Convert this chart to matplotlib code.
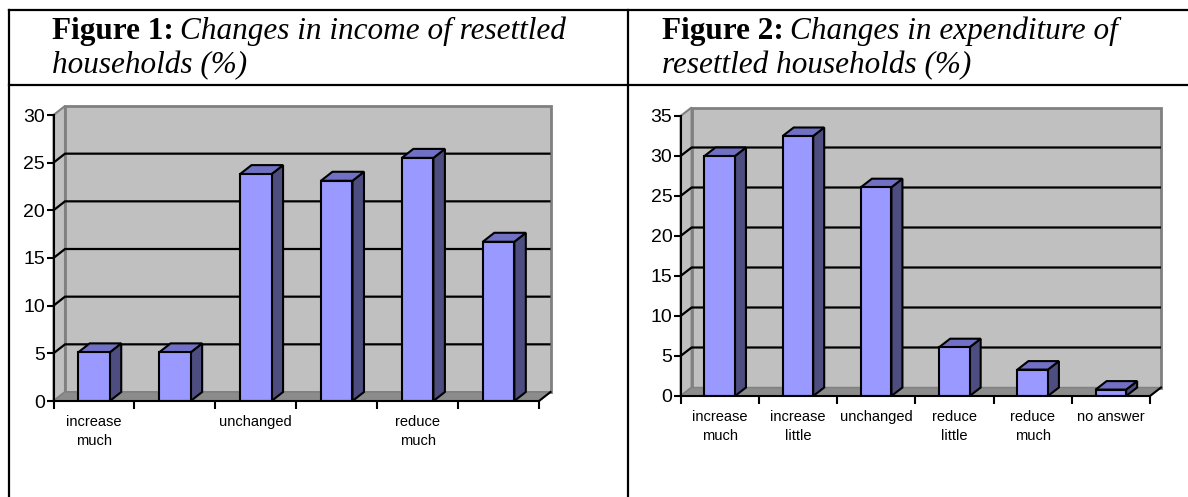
import matplotlib
matplotlib.use("Agg")
import matplotlib.pyplot as plt
from matplotlib.patches import Polygon, Rectangle
from matplotlib.lines import Line2D
import numpy as np

# Figure 1: changes in income of resettled households (%)
INCOME_LABELS = ["increase\nmuch", "", "unchanged", "", "reduce\nmuch", ""]
INCOME_VALUES = [5.1, 5.1, 23.8, 23.1, 25.5, 16.7]
INCOME_YMAX, INCOME_STEP = 30, 5

# Figure 2: changes in expenditure of resettled households (%)
EXPEND_LABELS = ["increase\nmuch", "increase\nlittle", "unchanged",
                 "reduce\nlittle", "reduce\nmuch", "no answer"]
EXPEND_VALUES = [30.0, 32.5, 26.1, 6.1, 3.3, 0.8]
EXPEND_YMAX, EXPEND_STEP = 35, 5

TITLES = [("Figure 1:", "Changes in income of resettled", "households (%)"),
          ("Figure 2:", "Changes in expenditure of", "resettled households (%)")]

FRONT = "#9999FF"
SIDE = "#4D4D80"
TOP = "#7070C4"
WALL = "#C0C0C0"
WALL_EDGE = "#808080"
FLOOR = "#8C8C8C"

W, H = 1188, 497
SANS = "Liberation Sans"
SERIF = "Liberation Serif"


def px_axes(fig, x0, y0, x1, y1):
    # pixel box (top-left origin) -> figure axes
    return fig.add_axes([x0 / W, (H - y1) / H, (x1 - x0) / W, (y1 - y0) / H])


def bar3d(ax, labels, values, ymax, step, depth_px=(11.5, 9.0), width=0.39):
    n = len(values)
    x = np.arange(n)
    x0, x1 = -0.5, n - 0.5
    ax.set_xlim(x0, x1)
    ax.set_ylim(0, ymax)
    sx, sy = ax.transData.transform((1, 1)) - ax.transData.transform((0, 0))
    dx, dy = depth_px[0] / sx, depth_px[1] / sy

    # walls and floor
    ax.add_patch(Polygon([(x0, 0), (x0, ymax), (x0 + dx, ymax + dy), (x0 + dx, dy)],
                         fc=WALL, ec=WALL_EDGE, lw=1.5, zorder=1, clip_on=False))
    ax.add_patch(Rectangle((x0 + dx, dy), x1 - x0, ymax, fc=WALL, ec=WALL_EDGE,
                           lw=2, zorder=1, clip_on=False))
    ax.add_patch(Polygon([(x0, 0), (x1, 0), (x1 + dx, dy), (x0 + dx, dy)],
                         fc=FLOOR, ec=WALL_EDGE, lw=1, zorder=2, clip_on=False))
    for t in np.arange(step, ymax, step):
        ax.plot([x0, x0 + dx, x1 + dx], [t, t + dy, t + dy], color="black",
                lw=1.6, zorder=2, clip_on=False, solid_capstyle="butt")

    # bars: front face through ax.bar, side and top faces as polygons
    ax.bar(x, values, width=width, color=FRONT, edgecolor="black", linewidth=1.5, zorder=4)
    for xi, v in zip(x, values):
        l, r = xi - width / 2, xi + width / 2
        ax.add_patch(Polygon([(r, 0), (r, v), (r + dx, v + dy), (r + dx, dy)],
                             fc=SIDE, ec="black", lw=1.5, zorder=3, clip_on=False))
        ax.add_patch(Polygon([(l, v), (r, v), (r + dx, v + dy), (l + dx, v + dy)],
                             fc=TOP, ec="black", lw=1.5, zorder=3, clip_on=False))

    ax.plot([x1, x1 + dx], [0, dy], color="black", lw=1.5, zorder=5, clip_on=False)

    ax.patch.set_visible(False)
    for s in ("top", "right"):
        ax.spines[s].set_visible(False)
    for s in ("left", "bottom"):
        ax.spines[s].set_linewidth(1.5)
        ax.spines[s].set_zorder(5)
    ax.set_xticks(np.arange(n + 1) - 0.5)
    ax.set_xticklabels([])
    ax.set_xticks(x, minor=True)
    ax.set_xticklabels(labels, minor=True, fontfamily=SANS, fontsize=10.5, linespacing=1.5)
    ax.tick_params(axis="x", which="major", direction="out", length=6, width=1.5)
    ax.tick_params(axis="x", which="minor", length=0, pad=10)
    ax.set_yticks(np.arange(0, ymax + 1, step))
    ax.tick_params(axis="y", direction="out", length=5, width=1.5, labelsize=14, pad=1)
    for lab in ax.get_yticklabels():
        lab.set_fontfamily(SANS)


fig = plt.figure(figsize=(W / 100, H / 100), dpi=100)

# table frame
for xs, ys in (([9, W], [10, 10]), ([9, W], [85, 85]),
               ([9, 9], [10, H]), ([628, 628], [10, H])):
    fig.add_artist(Line2D([v / W for v in xs], [1 - v / H for v in ys],
                          transform=fig.transFigure, color="black", lw=1.6))

# cell titles
renderer = fig.canvas.get_renderer()
for (bold, line1, line2), tx in zip(TITLES, (52, 662)):
    t = fig.text(tx / W, 1 - 39 / H, bold, fontfamily=SERIF, fontweight="bold",
                 fontsize=22.5, va="baseline", ha="left")
    ext = t.get_window_extent(renderer)
    fig.text((ext.x1 + 6) / W, 1 - 39 / H, line1, fontfamily=SERIF, style="italic",
             fontsize=22.5, va="baseline", ha="left")
    fig.text(tx / W, 1 - 73 / H, line2, fontfamily=SERIF, style="italic",
             fontsize=22.5, va="baseline", ha="left")

ax1 = px_axes(fig, 53.5, 115, 539, 401)
bar3d(ax1, INCOME_LABELS, INCOME_VALUES, INCOME_YMAX, INCOME_STEP, depth_px=(11.5, 9.0))

ax2 = px_axes(fig, 680.6, 116, 1150, 396)
bar3d(ax2, EXPEND_LABELS, EXPEND_VALUES, EXPEND_YMAX, EXPEND_STEP, depth_px=(11.0, 8.5))

fig.savefig("out.png", dpi=100)
